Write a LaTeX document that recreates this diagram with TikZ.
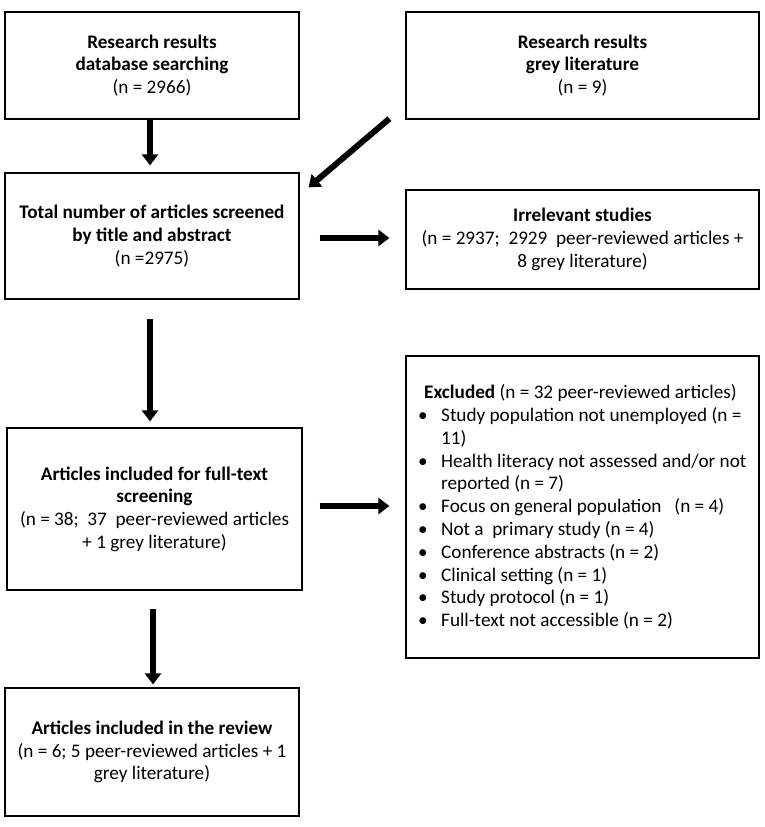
\documentclass[tikz,border=0pt]{standalone}
\usepackage{fontspec}
\setmainfont{Carlito}
\usetikzlibrary{arrows.meta}
\newcommand{\bul}{\hspace*{-6pt}\makebox[23pt][l]{\textbullet}}
\newcommand{\ind}{\hspace*{17pt}}
\begin{document}
\begin{tikzpicture}[x=1pt,y=1pt,
  box/.style={draw, line width=1.2pt, inner sep=0pt, align=center,
    font=\fontsize{19.2}{22.7}\selectfont},
  arr/.style={line width=6pt, -{Triangle[length=11pt,width=16pt]}}]
\useasboundingbox (0,0) rectangle (765,-827);
\node[box, minimum width=294, minimum height=107] (b1) at (152,-65.5)
  {\textbf{Research results}\\\textbf{database searching}\\(n = 2966)};
\node[box, minimum width=353, minimum height=107] (b2) at (582.5,-65.5)
  {\textbf{Research results}\\\textbf{grey literature}\\(n = 9)};
\node[box, minimum width=294, minimum height=126] (b3) at (152,-236)
  {\textbf{Total number of articles screened}\\\textbf{by title and abstract}\\(n =2975)};
\node[box, minimum width=353, minimum height=99] (b4) at (582.5,-239.5)
  {\textbf{Irrelevant studies}\\(n = 2937;\ \ 2929\ \ peer-reviewed articles +\\8 grey literature)};
\node[box, minimum width=295, minimum height=162] (b5) at (154.5,-509)
  {\textbf{Articles included for full-text}\\\textbf{screening}\\(n = 38;\ \ 37\ \ peer-reviewed articles\\+ 1 grey literature)};
\node[box, minimum width=353, minimum height=302] (b6) at (582.5,-507) {};
\node[anchor=west, inner sep=0pt, align=left,
  font=\fontsize{19.2}{22.8}\selectfont] (t6) at (424,-507)
  {\textbf{Excluded} (n = 32 peer-reviewed articles)\\
   \bul Study population not unemployed (n =\\
   \ind 11)\\
   \bul Health literacy not assessed and/or not\\
   \ind reported (n = 7)\\
   \bul Focus on general population\ \ \ (n = 4)\\
   \bul Not a\ \ primary study (n = 4)\\
   \bul Conference abstracts (n = 2)\\
   \bul Clinical setting (n = 1)\\
   \bul Study protocol (n = 1)\\
   \bul Full-text not accessible (n = 2)};
\node[box, minimum width=294, minimum height=128] (b7) at (152,-752)
  {\textbf{Articles included in the review}\\(n = 6; 5 peer-reviewed articles + 1\\grey literature)};
\draw[arr] ([xshift=-2pt,yshift=2pt]b1.south) -- ([xshift=-2pt,yshift=7pt]b3.north);
\draw[arr] ([xshift=-16pt,yshift=1pt]b2.south west) -- ([xshift=9pt,yshift=-15pt]b3.north east);
\draw[arr] ([xshift=20pt,yshift=-2pt]b3.east) -- ([xshift=-16pt,yshift=1.5pt]b4.west);
\draw[arr] ([xshift=-2pt,yshift=-19pt]b3.south) -- ([xshift=-4.5pt,yshift=6pt]b5.north);
\draw[arr] ([xshift=17pt,yshift=3pt]b5.east) -- ([xshift=-16pt,yshift=1pt]b6.west);
\draw[arr] ([xshift=-1.5pt,yshift=-18pt]b5.south) -- ([xshift=1pt,yshift=3pt]b7.north);
\end{tikzpicture}
\end{document}
